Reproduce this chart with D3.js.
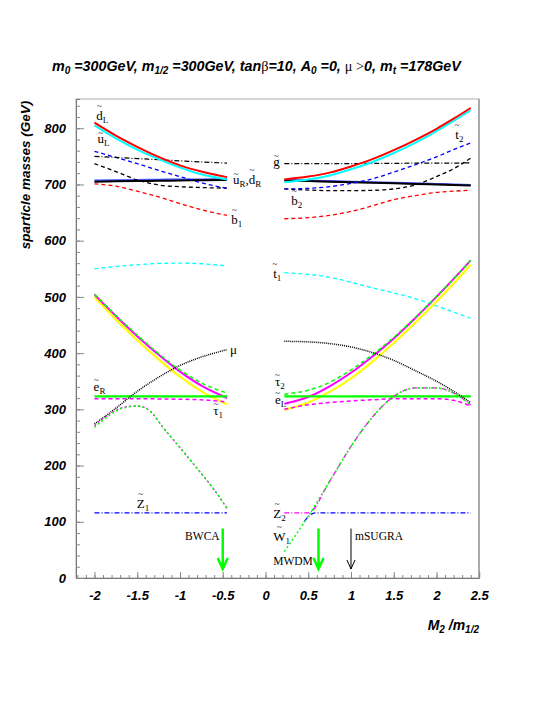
<!DOCTYPE html>
<html>
<head>
<meta charset="utf-8">
<script src="https://cdn.jsdelivr.net/npm/d3@7"></script>
<style>
body { margin: 0; background: #fff; }
text { font-family: "Liberation Sans", Arial, sans-serif; }
.lbl { font-family: "Liberation Serif", "Times New Roman", serif; }
</style>
</head>
<body>
<div id="chart"></div>
<script>
// M2/m1/2 sample points, left and right of the gap
var xLeft = [-2, -1.75, -1.5, -1.25, -1, -0.75, -0.45];
var xRight = [0.22, 0.5, 0.75, 1, 1.25, 1.5, 1.75, 2, 2.2, 2.4];
// finer grid for the chargino / neutralino curves
var xLeftW = [-2, -1.8, -1.65, -1.5, -1.35, -1.2, -1, -0.8, -0.6, -0.45];
var xRightZ1 = [0.45, 0.58, 0.75, 1, 1.5, 2, 2.4];

// masses in GeV (left branch)
var dLLeft   = [810, 787, 767, 749, 734, 723, 713];
var uLLeft   = [805, 782, 762, 745, 730, 718, 709];
var t2Left   = [759, 748, 737, 725, 714, 703, 693];
var glLeft   = [750, 748, 746, 744, 742, 740, 738];
var b2Left   = [737, 723, 708, 699, 696, 694.5, 693.5];
var dRLeft   = [707, 707.5, 708, 708.5, 709, 709, 709.5];
var uRLeft   = [705, 705.5, 706, 706.5, 707, 707.5, 708];
var b1Left   = [701, 697, 688, 678, 666, 655, 645];
var t1Left   = [550, 554, 557, 559.5, 560, 559, 555];
var eLLeft   = [504, 466, 430, 397, 367, 342, 320];
var tau2Left = [505, 467, 432, 399, 370, 347, 329];
var snLeft   = [500, 460, 423, 389, 358, 332, 309];
var eRLeft   = [323, 323, 323, 323, 323, 323, 323];
var tau1Left = [319, 319, 319, 318.5, 318, 317, 313];
var muLeft   = [274, 302, 332, 357, 378, 393, 406];
var w1Left   = [268, 292, 303, 306, 297, 268, 232, 195, 157, 124];
var z2Left   = [271, 294, 304, 306, 297, 268, 232, 195, 157, 124];
var z1Left   = [116, 116, 116, 116, 116, 116, 116];

// right branch
var dLRight   = [709, 714, 721, 732, 745, 761, 779, 799, 817, 836];
var uLRight   = [704, 709, 716, 727, 740, 756, 774, 795, 813, 832];
var t2Right   = [692, 693, 696, 702, 710, 722, 735, 749, 762, 774];
var glRight   = [737, 737, 737, 737, 737.5, 737.5, 738, 738, 738, 738.5];
var b2Right   = [692, 690, 689, 689, 689.5, 692, 699, 714, 728, 747];
var dRRight   = [708, 707, 706, 705, 704, 703, 702, 701, 700, 699];
var uRRight   = [707, 706, 705, 704, 703, 702, 701, 700, 699, 698];
var b1Right   = [639, 641, 645, 652, 662, 673, 680, 686, 688, 690];
var t1Right   = [543, 540, 535, 526, 516, 507, 497, 484, 473, 462];
var eLRight   = [310, 322, 341, 365, 394, 426, 462, 500, 532, 565];
var tau2Right = [327, 334, 348, 370, 397, 428, 463, 501, 532, 565];
var snRight   = [299, 312, 331, 355, 385, 418, 454, 492, 524, 557];
var eRRight   = [323, 323, 323, 323, 323, 323, 323, 323, 323, 323];
var tau1Right = [300, 308, 312, 315, 317, 319, 319, 319, 316, 306];
var muRight   = [421, 420, 417, 411, 401, 387, 369, 350, 332, 312];
var w1Right   = [47, 110, 172, 234, 286, 323, 338, 338, 329, 308];
var z2Right   = [116, 116, 172, 234, 286, 323, 338, 338, 329, 308];
var z1Right   = [100, 116, 116, 116, 116, 116, 116];

// tick labels
var xTickLabels = [-2, -1.5, -1, -0.5, 0, 0.5, 1, 1.5, 2, 2.5];
var yTickLabels = [0, 100, 200, 300, 400, 500, 600, 700, 800];

// benchmark arrows
var arrowX = [-0.5, 0.62, 1];
var arrowFrom = 88, arrowTo = 16;

// particle labels: ~ = tilde on next char, _ = subscript next char
var labelText = ['~d_L', '~u_L', '~u_R,~d_R', '~b_1', '~e_R', 'μ', '~τ_1', '~Z_1',
                 '~g', '~b_2', '~t_2', '~t_1', '~τ_2', '~e_L', '~Z_2', '~W_1',
                 'BWCA', 'MWDM', 'mSUGRA'];
var labelX = [-1.98, -1.965, -0.38, -0.4, -2.01, -0.415, -0.61, -1.506,
              0.09, 0.3, 2.22, 0.09, 0.11, 0.11, 0.09, 0.09,
              -0.94, 0.09, 1.047];
var labelY = [814, 773, 700, 630, 333, 399, 290, 125,
              732, 664, 780, 534, 342, 310, 107, 66,
              68, 23, 68];

var fullWidth = 545, fullHeight = 705;
var plotLeft = 76, plotRight = 479, plotTop = 99, plotBottom = 578;

var svg = d3.select('#chart').append('svg')
  .attr('width', fullWidth)
  .attr('height', fullHeight);

var x = d3.scaleLinear().domain([-2.216, 2.497]).range([plotLeft, plotRight]);
var y = d3.scaleLinear().domain([0, 852]).range([plotBottom, plotTop]);

// frame
svg.append('rect')
  .attr('x', plotLeft).attr('y', plotTop)
  .attr('width', plotRight - plotLeft).attr('height', plotBottom - plotTop)
  .attr('fill', 'none').attr('stroke', '#aaa').attr('stroke-width', 1);
svg.append('line')
  .attr('x1', plotRight).attr('x2', plotRight).attr('y1', plotTop).attr('y2', plotBottom)
  .attr('stroke', '#aaa').attr('stroke-width', 2);

// x axis: minor ticks every 0.1, major every 0.5
var minorX = d3.range(-22, 25).map(function(i) { return i / 10; });
svg.append('g')
  .attr('transform', 'translate(0,' + plotBottom + ')')
  .call(d3.axisBottom(x).tickValues(minorX).tickSize(-3).tickFormat(''))
  .call(function(g) {
    g.select('.domain').attr('stroke', '#777');
    g.selectAll('.tick line').attr('stroke', '#888');
  });
svg.append('g')
  .attr('transform', 'translate(0,' + plotBottom + ')')
  .call(d3.axisBottom(x).tickValues(xTickLabels).tickSize(-6).tickPadding(13)
    .tickFormat(function(d) { return String(d); }))
  .call(function(g) {
    g.select('.domain').remove();
    g.selectAll('.tick line').attr('stroke', '#888');
    g.selectAll('text')
      .style('font-size', '13px')
      .style('font-weight', 'bold')
      .style('font-style', 'italic')
      .attr('fill', '#000');
  });

// y axis: minor ticks every 20, major every 100
var minorY = d3.range(0, 860, 20);
svg.append('g')
  .attr('transform', 'translate(' + plotLeft + ',0)')
  .call(d3.axisLeft(y).tickValues(minorY).tickSize(-4).tickFormat(''))
  .call(function(g) {
    g.select('.domain').attr('stroke', '#777');
    g.selectAll('.tick line').attr('stroke', '#888');
  });
svg.append('g')
  .attr('transform', 'translate(' + plotLeft + ',0)')
  .call(d3.axisLeft(y).tickValues(yTickLabels).tickSize(-8).tickPadding(10))
  .call(function(g) {
    g.select('.domain').remove();
    g.selectAll('.tick line').attr('stroke', '#888');
    g.selectAll('text')
      .style('font-size', '13px')
      .style('font-weight', 'bold')
      .style('font-style', 'italic')
      .attr('fill', '#000');
  });

// axis titles
svg.append('text')
  .attr('transform', 'translate(30,175)rotate(-90)')
  .style('text-anchor', 'middle')
  .style('font-size', '13.5px')
  .style('font-weight', 'bold')
  .style('font-style', 'italic')
  .text('sparticle masses (GeV)');

var xt = svg.append('text')
  .attr('x', plotRight).attr('y', 630)
  .style('text-anchor', 'end')
  .style('font-size', '14px')
  .style('font-weight', 'bold')
  .style('font-style', 'italic');
xt.append('tspan').text('M');
xt.append('tspan').attr('dy', 3).style('font-size', '10px').text('2');
xt.append('tspan').attr('dy', -3).text(' /m');
xt.append('tspan').attr('dy', 3).style('font-size', '10px').text('1/2');

// title
var title = svg.append('text')
  .attr('x', 52).attr('y', 71)
  .style('font-size', '14.3px')
  .style('font-weight', 'bold')
  .style('font-style', 'italic');
var titleParts = [
  ['m', 0], ['0', 1], [' =300GeV, m', 0], ['1/2', 1], [' =300GeV, tan', 0],
  ['β', 2], ['=10, A', 0], ['0', 1], [' =0, ', 0], ['μ >', 2], ['0, m', 0],
  ['t', 1], [' =178GeV', 0]
];
var prevSub = false;
titleParts.forEach(function(p) {
  var ts = title.append('tspan').text(p[0]);
  if (p[1] == 1) {
    ts.attr('dy', 3).style('font-size', '10px');
    prevSub = true;
  } else {
    if (prevSub) ts.attr('dy', -3);
    prevSub = false;
    if (p[1] == 2) {
      ts.style('font-family', '"Liberation Serif", serif')
        .style('font-weight', 'normal').style('font-style', 'normal');
    }
  }
});

// curve styles
var dashed = '4 3', dotted = '1 1', dashDot = '5 2 1 2', fine = '2 2.5';
var series = [
  {xs: xLeft, ys: t1Left, color: '#00ffff', w: 1.3, dash: dashed},
  {xs: xRight, ys: t1Right, color: '#00ffff', w: 1.3, dash: dashed},
  {xs: xLeft, ys: b1Left, color: '#ff0000', w: 1.3, dash: dashed},
  {xs: xRight, ys: b1Right, color: '#ff0000', w: 1.3, dash: dashed},
  {xs: xLeft, ys: dRLeft, color: '#4455ff', w: 2, dash: null},
  {xs: xRight, ys: dRRight, color: '#4455ff', w: 2, dash: null},
  {xs: xLeft, ys: uRLeft, color: '#000000', w: 2, dash: null},
  {xs: xRight, ys: uRRight, color: '#000000', w: 2, dash: null},
  {xs: xLeft, ys: b2Left, color: '#000000', w: 1.3, dash: dashed},
  {xs: xRight, ys: b2Right, color: '#000000', w: 1.3, dash: dashed},
  {xs: xLeft, ys: t2Left, color: '#0000ff', w: 1.3, dash: dashed},
  {xs: xRight, ys: t2Right, color: '#0000ff', w: 1.3, dash: dashed},
  {xs: xLeft, ys: glLeft, color: '#000000', w: 1.2, dash: dashDot},
  {xs: xRight, ys: glRight, color: '#000000', w: 1.2, dash: dashDot},
  {xs: xLeft, ys: uLLeft, color: '#00ffff', w: 2, dash: null},
  {xs: xRight, ys: uLRight, color: '#00ffff', w: 2, dash: null},
  {xs: xLeft, ys: dLLeft, color: '#ff0000', w: 2, dash: null},
  {xs: xRight, ys: dLRight, color: '#ff0000', w: 2, dash: null},
  {xs: xLeft, ys: snLeft, color: '#ffff00', w: 2.2, dash: null},
  {xs: xRight, ys: snRight, color: '#ffff00', w: 2.2, dash: null},
  {xs: xLeft, ys: eLLeft, color: '#ff00ff', w: 2, dash: null},
  {xs: xRight, ys: eLRight, color: '#ff00ff', w: 2, dash: null},
  {xs: xLeft, ys: tau2Left, color: '#00ff00', w: 1.5, dash: dashed},
  {xs: xRight, ys: tau2Right, color: '#00ff00', w: 1.5, dash: dashed},
  {xs: xLeft, ys: eRLeft, color: '#00ff00', w: 2.2, dash: null},
  {xs: xRight, ys: eRRight, color: '#00ff00', w: 2.2, dash: null},
  {xs: xLeft, ys: tau1Left, color: '#ff00ff', w: 1.5, dash: dashed},
  {xs: xRight, ys: tau1Right, color: '#ff00ff', w: 1.5, dash: dashed},
  {xs: xLeft, ys: muLeft, color: '#000000', w: 1.5, dash: dotted},
  {xs: xRight, ys: muRight, color: '#000000', w: 1.5, dash: dotted},
  {xs: xLeft, ys: z1Left, color: '#0000ff', w: 1.2, dash: dashDot},
  {xs: xRightZ1, ys: z1Right, color: '#0000ff', w: 1.2, dash: dashDot},
  {xs: xLeftW, ys: z2Left, color: '#ff00ff', w: 1.3, dash: fine},
  {xs: xRight, ys: z2Right, color: '#ff00ff', w: 1.3, dash: dashDot},
  {xs: xLeftW, ys: w1Left, color: '#00ff00', w: 1.5, dash: fine},
  {xs: xRight, ys: w1Right, color: '#00ff00', w: 1.5, dash: fine}
];

var line = d3.line()
  .x(function(d) { return x(d[0]); })
  .y(function(d) { return y(d[1]); })
  .curve(d3.curveMonotoneX);

svg.append('g').selectAll('path')
    .data(series)
  .enter().append('path')
    .attr('d', function(s) { return line(d3.zip(s.xs, s.ys)); })
    .attr('fill', 'none')
    .attr('stroke', function(s) { return s.color; })
    .attr('stroke-width', function(s) { return s.w; })
    .attr('stroke-dasharray', function(s) { return s.dash; });

// arrows
var arrowColor = ['#00ff00', '#00ff00', '#000000'];
var arrowWidth = [2.5, 2.5, 1];
var arrows = svg.append('g');
arrowX.forEach(function(ax, i) {
  var px = x(ax), y0 = y(arrowFrom), y1 = y(arrowTo);
  var hw = i < 2 ? 5 : 4, hh = i < 2 ? 11 : 9;
  arrows.append('path')
    .attr('d', 'M' + px + ',' + y0 + 'L' + px + ',' + y1 +
      'M' + (px - hw) + ',' + (y1 - hh) + 'L' + px + ',' + y1 + 'L' + (px + hw) + ',' + (y1 - hh))
    .attr('fill', 'none')
    .attr('stroke', arrowColor[i])
    .attr('stroke-width', arrowWidth[i]);
});

// particle labels with tildes and subscripts
var tall = 'dbZWt';
labelText.forEach(function(str, i) {
  var t = svg.append('text').attr('class', 'lbl')
    .attr('x', x(labelX[i])).attr('y', y(labelY[i]))
    .style('font-size', '13px');
  var tildes = [];
  var sub = false, k = 0;
  while (k < str.length) {
    var c = str[k];
    if (c == '~') {
      var ts = t.append('tspan').text(str[k + 1]);
      if (sub) { ts.attr('dy', -3); sub = false; }
      tildes.push([ts, str[k + 1]]);
      k += 2;
    } else if (c == '_') {
      t.append('tspan').attr('dy', 3).style('font-size', '9px').text(str[k + 1]);
      sub = true;
      k += 2;
    } else {
      var ts2 = t.append('tspan').text(c);
      if (sub) { ts2.attr('dy', -3); sub = false; }
      k += 1;
    }
  }
  if (str.length > 3 && str.indexOf('~') < 0 && str != 'μ') {
    t.style('font-size', '11.5px');
  }
  tildes.forEach(function(p) {
    var ext = p[0].node().getExtentOfChar(0);
    var base = y(labelY[i]);
    var off = tall.indexOf(p[1]) >= 0 ? 11 : 7.5;
    svg.append('text').attr('class', 'lbl')
      .attr('x', ext.x + ext.width / 2)
      .attr('y', base - off)
      .style('text-anchor', 'middle')
      .style('font-size', '9px')
      .text('~');
  });
});
</script>
</body>
</html>
